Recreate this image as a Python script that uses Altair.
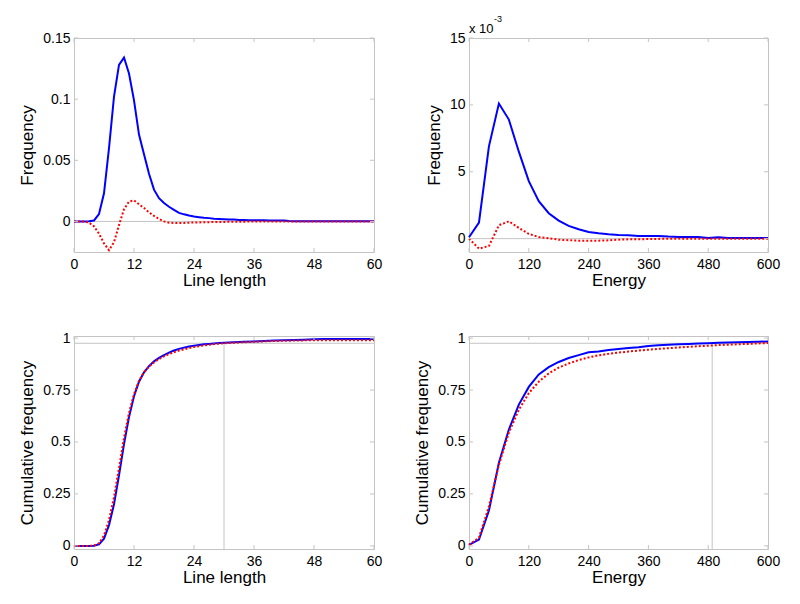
import altair as alt
import pandas as pd

# ---------------- data ----------------
# Top-left: frequency vs line length
len_x = list(range(0, 61))
len_freq_blue = [0, 0, 0, 0.0002, 0.0008, 0.006, 0.023, 0.06, 0.102, 0.128,
                 0.134, 0.121, 0.099, 0.071, 0.055, 0.039, 0.026, 0.019, 0.015, 0.012,
                 0.0095, 0.007, 0.0058, 0.0048, 0.004, 0.0035, 0.003, 0.0027, 0.0022, 0.002,
                 0.0018, 0.0016, 0.0015, 0.0012, 0.0011, 0.001, 0.001, 0.0009, 0.0009, 0.0008,
                 0.0008, 0.0008, 0.0007, 0.0003, 0.0002, 0.0002, 0.0002, 0.0002, 0.0002, 0.0002,
                 0.0001, 0.0001, 0.0001, 0.0001, 0.0001, 0.0001, 0.0001, 0.0001, 0.0001, 0.0001,
                 0.0001]
len_freq_red = [0, 0, 0, -0.001, -0.004, -0.01, -0.018, -0.0235, -0.017, -0.003,
                0.01, 0.0162, 0.0172, 0.014, 0.011, 0.0075, 0.0045, 0.002, 0, -0.001,
                -0.0013, -0.0013, -0.0012, -0.001, -0.0009, -0.0008, -0.0007, -0.0006, -0.0005, -0.0005,
                -0.0004, -0.0003, -0.0003, -0.0002, -0.0002, -0.0001, -0.0001, 0, 0, 0,
                0, 0, 0, 0, 0, 0, 0, 0, 0, 0,
                0, 0, 0, 0, 0, 0, 0, 0, 0, 0,
                0]

# Top-right: frequency vs energy (values in units of 1e-3)
en_x = list(range(0, 601, 20))
en_freq_blue_e3 = [0.1, 1.2, 6.9, 10.1, 8.9, 6.5, 4.3, 2.8, 1.9, 1.35,
                   0.95, 0.7, 0.5, 0.4, 0.33, 0.28, 0.25, 0.2, 0.2, 0.2,
                   0.15, 0.12, 0.12, 0.12, 0.05, 0.1, 0.05, 0.05, 0.05, 0.05,
                   0.05]
en_freq_red_e3 = [0, -0.75, -0.55, 1.0, 1.3, 0.8, 0.35, 0.12, 0.03, -0.08,
                  -0.12, -0.15, -0.15, -0.15, -0.13, -0.08, -0.05, -0.05, -0.03, -0.02,
                  -0.01, 0, 0, 0, 0, 0, 0, 0, 0, 0,
                  0]

# Bottom-left: cumulative frequency vs line length
cum_len_x = list(range(0, 31)) + [32, 34, 36, 38, 40, 42, 44, 46, 48, 50, 55, 60]
cum_len_blue = [0, 0, 0, 0, 0.001, 0.007, 0.035, 0.1, 0.2, 0.34,
                0.49, 0.62, 0.72, 0.79, 0.835, 0.865, 0.888, 0.905, 0.918, 0.93,
                0.94, 0.948, 0.954, 0.959, 0.963, 0.967, 0.97, 0.972, 0.974, 0.976,
                0.977, 0.98, 0.982, 0.984, 0.986, 0.988, 0.99, 0.991, 0.992, 0.994,
                0.995, 0.995, 0.995]
cum_len_red = [0, 0, 0, 0, 0.002, 0.013, 0.05, 0.125, 0.235, 0.375,
               0.52, 0.64, 0.73, 0.795, 0.835, 0.862, 0.883, 0.899, 0.912, 0.923,
               0.932, 0.94, 0.946, 0.952, 0.957, 0.961, 0.965, 0.968, 0.971, 0.973,
               0.975, 0.978, 0.98, 0.982, 0.984, 0.986, 0.987, 0.988, 0.989, 0.99,
               0.99, 0.99, 0.99]

# Bottom-right: cumulative frequency vs energy
cum_en_blue = [0.005, 0.03, 0.17, 0.4, 0.56, 0.68, 0.765, 0.825, 0.86, 0.885,
               0.904, 0.918, 0.932, 0.935, 0.943, 0.948, 0.952, 0.956, 0.962, 0.965,
               0.968, 0.970, 0.972, 0.974, 0.975, 0.977, 0.979, 0.980, 0.981, 0.982,
               0.984]
cum_en_red = [0.005, 0.04, 0.19, 0.39, 0.545, 0.655, 0.735, 0.79, 0.83, 0.858,
              0.878, 0.894, 0.907, 0.917, 0.924, 0.93, 0.935, 0.94, 0.944, 0.948,
              0.951, 0.955, 0.958, 0.961, 0.963, 0.966, 0.968, 0.970, 0.972, 0.974,
              0.976]

# reference lines in the cumulative plots
ref_level = [0.975]
ref_len_x = [30]
ref_en_x = [488]

# axes
len_ticks = [0, 12, 24, 36, 48, 60]
en_ticks = [0, 120, 240, 360, 480, 600]
freq_len_ticks = [0, 0.05, 0.1, 0.15]
freq_en_ticks = [0, 0.005, 0.01, 0.015]
cum_ticks = [0, 0.25, 0.5, 0.75, 1]
exp_label = ["x 10"]
exp_sup = ["-3"]

# ---------------- style ----------------
GRAY = "#c4c4c4"
BLUE = "#0000ff"
RED = "#ff0000"
FONT = "Liberation Sans"
TL = 4  # inner tick length


def make_axes(xt, yt, xtitle, ytitle, yfmt_expr):
    xaxis = alt.Axis(values=xt, title=xtitle, grid=False, ticks=False, tickSize=0,
                     domain=False, labelPadding=5, titlePadding=1, labelFlush=False,
                     labelExpr="format(datum.value, 'd')")
    yaxis = alt.Axis(values=yt, title=ytitle, grid=False, ticks=False, tickSize=0,
                     domain=False, labelPadding=4, titlePadding=6, labelFlush=False,
                     labelExpr=yfmt_expr)
    return xaxis, yaxis


def panel(x, yb, yr, xs, ys, xt, yt, xtitle, ytitle, yfmt_expr, extra_fn, W, H):
    xaxis, yaxis = make_axes(xt, yt, xtitle, ytitle, yfmt_expr)
    X = lambda f: alt.X(f, scale=xs, axis=xaxis)
    Y = lambda f: alt.Y(f, scale=ys, axis=yaxis)
    df = pd.DataFrame({"x": x, "blue": yb, "red": yr})
    base = alt.Chart(df)
    blue = base.mark_line(color=BLUE, strokeWidth=2).encode(x=X("x:Q"), y=Y("blue:Q"))
    red = base.mark_line(color=RED, strokeWidth=2, strokeDash=[2, 2]).encode(
        x=X("x:Q"), y=Y("red:Q"))
    dx = pd.DataFrame({"t": xt})
    dy = pd.DataFrame({"t": yt})
    ticks = []
    for y0, y1 in [(H, H - TL), (0, TL)]:
        ticks.append(alt.Chart(dx).mark_rule(color=GRAY, strokeWidth=1).encode(
            x=X("t:Q"), y=alt.value(y0), y2=alt.value(y1)))
    for x0, x1 in [(0, TL), (W, W - TL)]:
        ticks.append(alt.Chart(dy).mark_rule(color=GRAY, strokeWidth=1).encode(
            y=Y("t:Q"), x=alt.value(x0), x2=alt.value(x1)))
    layers = extra_fn(X, Y) + [blue, red] + ticks
    return alt.layer(*layers).properties(width=W, height=H)


def zero_line(X, Y):
    return [alt.Chart(pd.DataFrame({"v": [0]})).mark_rule(color=GRAY, strokeWidth=1).encode(
        y=Y("v:Q"))]


CUM_MIN = -0.015


def ref_lines(xv):
    def fn(X, Y):
        h = alt.Chart(pd.DataFrame({"v": ref_level})).mark_rule(color=GRAY, strokeWidth=1).encode(
            y=Y("v:Q"))
        d = pd.DataFrame({"x": xv, "top": ref_level, "bot": [CUM_MIN] * len(xv)})
        v = alt.Chart(d).mark_rule(color=GRAY, strokeWidth=1).encode(
            x=X("x:Q"), y=Y("top:Q"), y2="bot:Q")
        return [h, v]
    return fn


sx_len = alt.Scale(domain=[0, 60], nice=False, zero=False)
sx_en = alt.Scale(domain=[0, 600], nice=False, zero=False)
sy_fl = alt.Scale(domain=[-0.025, 0.15], nice=False, zero=False)
sy_fe = alt.Scale(domain=[-0.001, 0.015], nice=False, zero=False)
sy_c = alt.Scale(domain=[CUM_MIN, 1.01], nice=False, zero=False)

fmt = "format(datum.value, '~g')"
fmt_e3 = "format(datum.value*1000, '~g')"

tl = panel(len_x, len_freq_blue, len_freq_red, sx_len, sy_fl, len_ticks, freq_len_ticks,
           "Line length", "Frequency", fmt, zero_line, 300, 214)

exp_txt = alt.Chart(pd.DataFrame({"t": exp_label})).mark_text(
    align="left", baseline="alphabetic", fontSize=13, font=FONT, color="black").encode(
    text="t:N", x=alt.value(0), y=alt.value(-5))
exp_sup_txt = alt.Chart(pd.DataFrame({"t": exp_sup})).mark_text(
    align="left", baseline="alphabetic", fontSize=9, font=FONT, color="black").encode(
    text="t:N", x=alt.value(25), y=alt.value(-16))

tr = panel(en_x, [v * 1e-3 for v in en_freq_blue_e3], [v * 1e-3 for v in en_freq_red_e3],
           sx_en, sy_fe, en_ticks, freq_en_ticks, "Energy", "Frequency", fmt_e3, zero_line,
           299, 214)
tr = alt.layer(tr, exp_txt, exp_sup_txt)

bl = panel(cum_len_x, cum_len_blue, cum_len_red, sx_len, sy_c, len_ticks, cum_ticks,
           "Line length", "Cumulative frequency", fmt, ref_lines(ref_len_x), 300, 213)

br = panel(en_x, cum_en_blue, cum_en_red, sx_en, sy_c, en_ticks, cum_ticks,
           "Energy", "Cumulative frequency", fmt, ref_lines(ref_en_x), 299, 213)

chart = alt.concat(tl, tr, bl, br, columns=2, spacing={"row": 41, "column": 30}).properties(
    padding={"left": 10, "top": 6, "right": 5, "bottom": 5},
    background="white",
).configure_view(
    stroke=GRAY, strokeWidth=1
).configure_axis(
    labelFont=FONT, titleFont=FONT, labelFontSize=14, titleFontSize=17,
    labelColor="black", titleColor="black", titleFontWeight="normal"
)

chart.save("out.html", embed_options={"renderer": "svg", "actions": False})
